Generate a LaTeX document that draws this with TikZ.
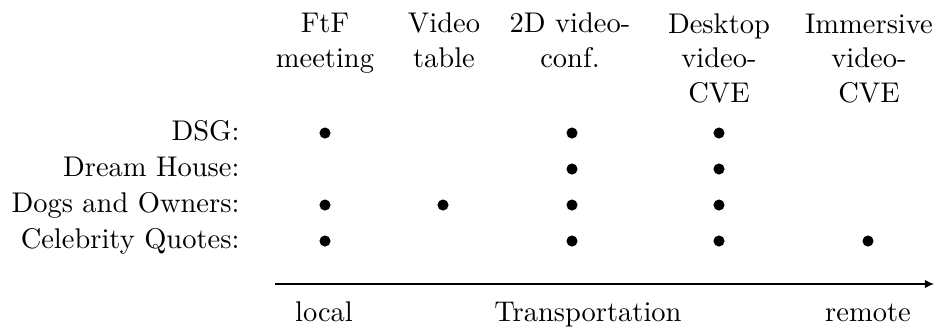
\documentclass[tikz,border=0pt]{standalone}
\usetikzlibrary{arrows.meta}
\begin{document}
\begin{tikzpicture}[x=0.351pt,y=-0.351pt,
  head/.style={align=center,anchor=base,inner sep=0pt,font=\normalsize},
  rowlab/.style={anchor=base east,inner sep=0pt},
  axlab/.style={anchor=base,inner sep=0pt},
  dot/.style={circle,fill=black,inner sep=0pt,minimum size=3.9pt}]
\useasboundingbox (0,0) rectangle (934,333);

% column headings (media); the base anchor sits on the last line
\node[head] (h1) at (325,67) {FtF\\meeting};
\node[head] (h2) at (444,67) {Video\\table};
\node[head] (h3) at (570,67) {2D video-\\conf.};
\node[head] (h4) at (719,102) {Desktop\\video-\\CVE};
\node[head] (h5) at (869,102) {Immersive\\video-\\CVE};

% row labels (tasks)
\node[rowlab] (r1) at (240,140) {DSG:};
\node[rowlab] (r2) at (240,176) {Dream House:};
\node[rowlab] (r3) at (240,212) {Dogs and Owners:};
\node[rowlab] (r4) at (240,248) {Celebrity Quotes:};

% marks for each task/medium combination
\node[dot] (d11) at (325,133) {};
\node[dot] (d13) at (572,133) {};
\node[dot] (d14) at (719,133) {};
\node[dot] (d23) at (572,169) {};
\node[dot] (d24) at (719,169) {};
\node[dot] (d31) at (325,205) {};
\node[dot] (d32) at (443,205) {};
\node[dot] (d33) at (572,205) {};
\node[dot] (d34) at (719,205) {};
\node[dot] (d41) at (325,241) {};
\node[dot] (d43) at (572,241) {};
\node[dot] (d44) at (719,241) {};
\node[dot] (d45) at (868,241) {};

% transportation axis
\coordinate (a0) at (275,284);
\coordinate (a1) at (934,284);
\draw[line width=0.45pt,-{Latex[length=3.2pt,width=3pt]}] (a0) -- (a1);

\node[axlab] (local) at (324,321) {local};
\node[axlab] (trans) at (588,321) {Transportation};
\node[axlab] (remote) at (868,321) {remote};
\end{tikzpicture}
\end{document}
